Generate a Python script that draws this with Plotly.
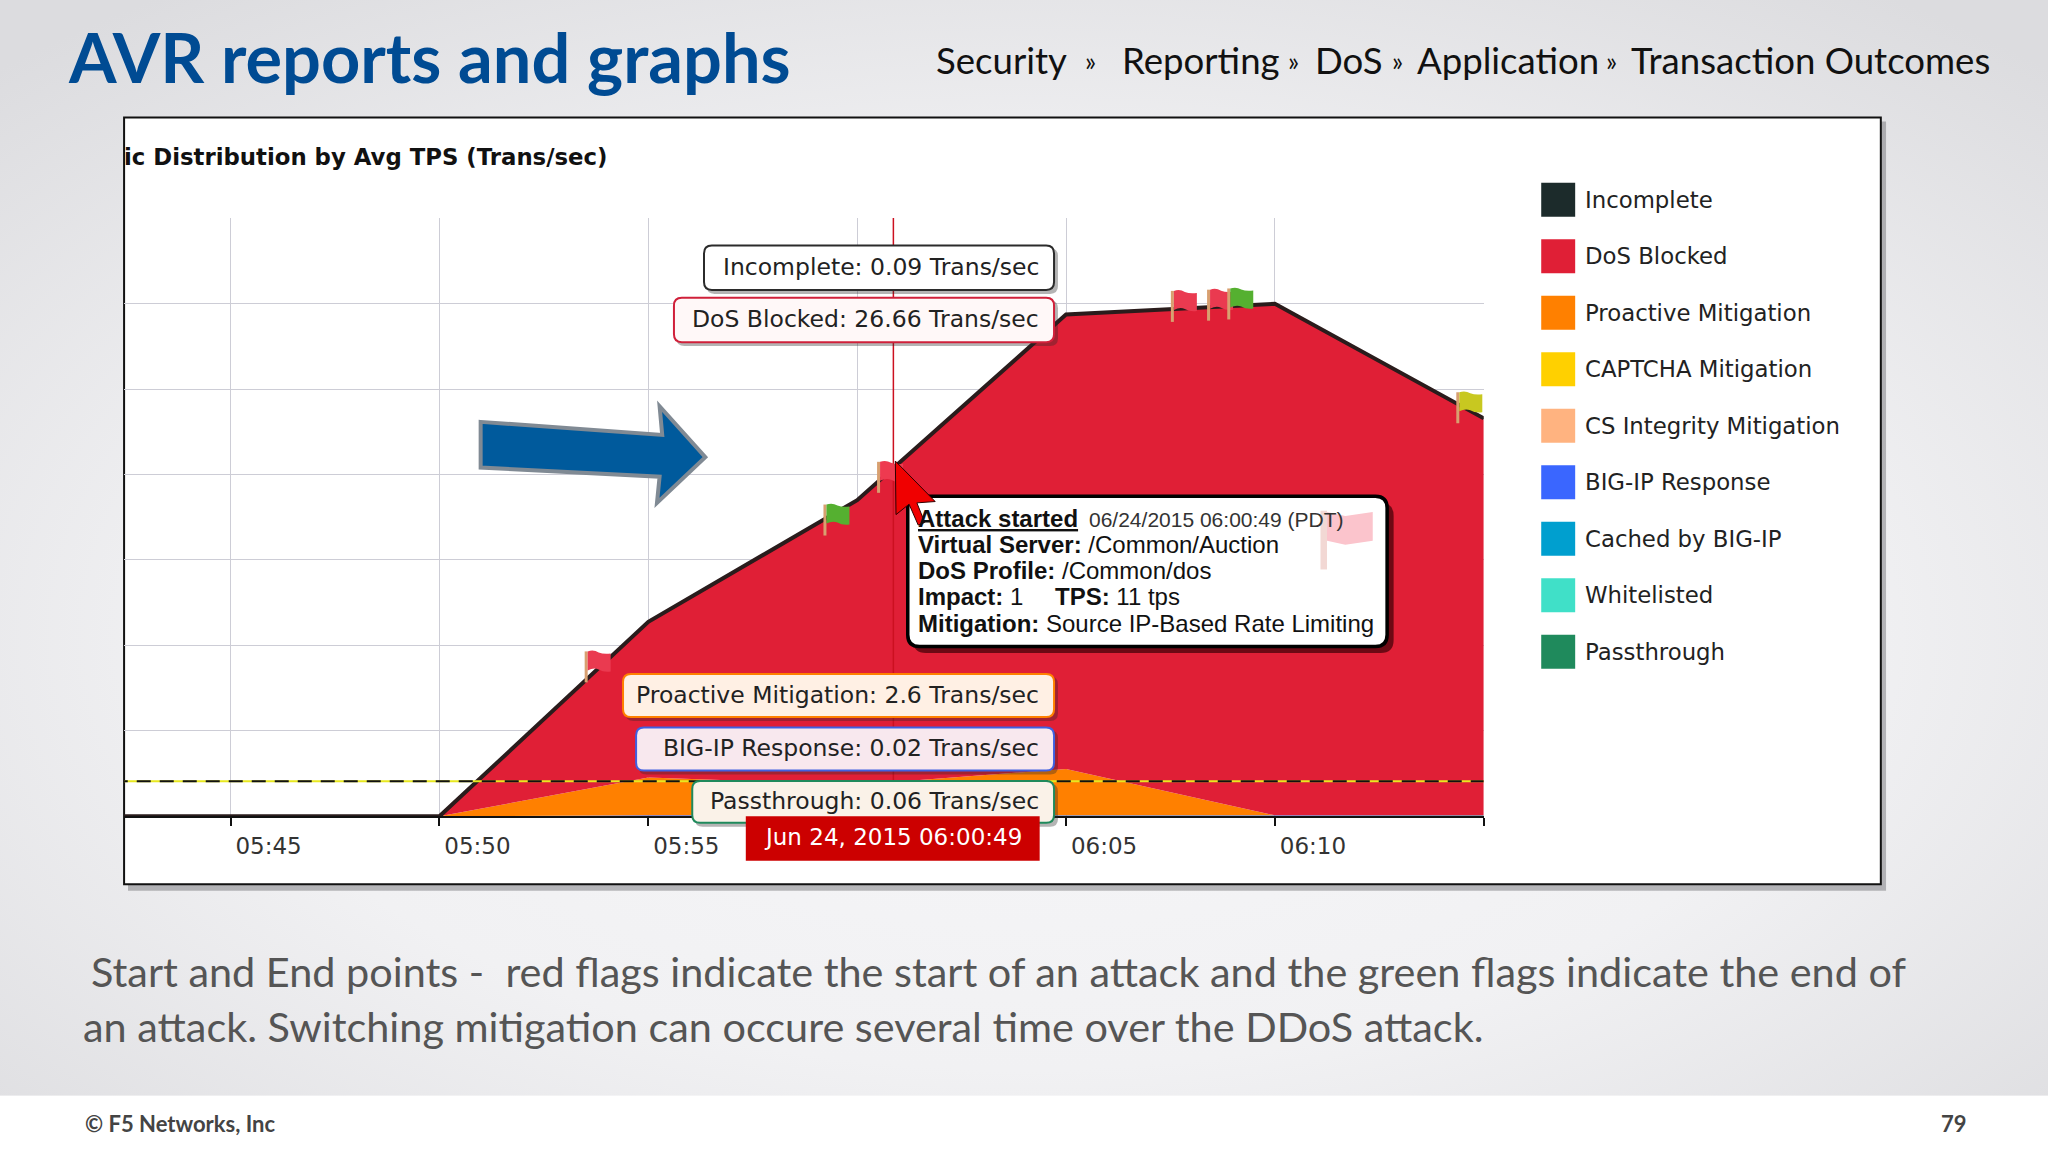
import plotly.graph_objects as go

# ---------- data ----------
day = "2015-06-24 "
times = [day + t for t in ["05:40:00", "05:45:00", "05:50:00", "05:55:00", "06:00:00", "06:05:00", "06:10:00", "06:15:00"]]
passthrough = [0, 0, 0, 0.06, 0.06, 0.06, 0.06, 0.06]
big_ip = [0, 0, 0, 0.02, 0.02, 0.02, 0.02, 0.02]
proactive = [0, 0, 0, 3.1, 2.5, 3.8, 0, 0]
dos_blocked = [0, 0, 0, 12.66, 23.23, 37.13, 41.81, 32.43]
incomplete = [0, 0, 0, 0.09, 0.09, 0.09, 0.09, 0.09]
threshold = 2.87

tick_times = [day + t for t in ["05:45:00", "05:50:00", "05:55:00", "06:00:00", "06:05:00", "06:10:00", "06:15:00"]]
tick_labels = ["05:45", "05:50", "05:55", "", "06:05", "06:10", ""]
cursor_time = day + "06:00:52"

flag_times = [day + t for t in ["05:53:30", "05:59:13", "06:00:30", "06:07:32", "06:08:24", "06:08:53", "06:14:22"]]
flag_values = [10.97, 23.0, 26.5, 40.5, 40.6, 40.7, 32.2]
flag_colors = ["#ea3a50", "#55b030", "#ee3a50", "#ea3a50", "#ea3a50", "#55b030", "#c8c820"]

legend_names = ["Incomplete", "DoS Blocked", "Proactive Mitigation", "CAPTCHA Mitigation", "CS Integrity Mitigation",
                "BIG-IP Response", "Cached by BIG-IP", "Whitelisted", "Passthrough"]
legend_colors = ["#1c2b2b", "#e01f36", "#ff8000", "#ffd000", "#ffb380", "#3a66ff", "#009fcf", "#40e0c8", "#1f8a5c"]

tip_texts = ["Incomplete: 0.09 Trans/sec", "DoS Blocked: 26.66 Trans/sec", "Proactive Mitigation: 2.6 Trans/sec",
             "BIG-IP Response: 0.02 Trans/sec", "Passthrough: 0.06 Trans/sec"]
tip_borders = ["#2b2b2b", "#d0203a", "#ff8000", "#4060e0", "#1f8a5c"]
tip_fills = ["#ffffff", "#fff8f8", "#fff0e4", "#f8e8ee", "#faf2e8"]
tip_lefts = [539, 516, 477, 487, 530]
tip_tops = [188, 228, 516, 557, 598]
tip_bottoms = [222, 262, 549, 590, 630]

IMG_W, IMG_H = 1568.0, 882.0
def X(v): return v / IMG_W
def Y(v): return 1 - v / IMG_H
SANS = "Liberation Sans"
SLIDE = "Lato"
DEJA = "DejaVu Sans"

def poly(points, close=True):
    s = "M" + " L".join(f"{X(a):.5f},{Y(b):.5f}" for a, b in points)
    return s + (" Z" if close else "")

def rrect(x0, y0, x1, y1, r):
    return (f"M{X(x0+r):.5f},{Y(y0):.5f} L{X(x1-r):.5f},{Y(y0):.5f} Q{X(x1):.5f},{Y(y0):.5f} {X(x1):.5f},{Y(y0+r):.5f} "
            f"L{X(x1):.5f},{Y(y1-r):.5f} Q{X(x1):.5f},{Y(y1):.5f} {X(x1-r):.5f},{Y(y1):.5f} "
            f"L{X(x0+r):.5f},{Y(y1):.5f} Q{X(x0):.5f},{Y(y1):.5f} {X(x0):.5f},{Y(y1-r):.5f} "
            f"L{X(x0):.5f},{Y(y0+r):.5f} Q{X(x0):.5f},{Y(y0):.5f} {X(x0+r):.5f},{Y(y0):.5f} Z")

shapes, anns = [], []
def pshape(path, fill, line=None, width=0, layer="above"):
    shapes.append(dict(type="path", xref="paper", yref="paper", path=path, fillcolor=fill,
                       line=dict(color=line or "rgba(0,0,0,0)", width=width), layer=layer))
def text(t, x, y, size, color="#000", font=SANS, anchor="left"):
    anns.append(dict(text=t, xref="paper", yref="paper", x=X(x), y=Y(y), xanchor=anchor, yanchor="middle",
                     showarrow=False, font=dict(family=font, size=size, color=color), borderpad=0))

# chart frame
pshape(poly([(98, 93), (1444, 93), (1444, 682), (98, 682)]), "rgba(70,70,75,0.35)", layer="below")
pshape(poly([(95, 90), (1440, 90), (1440, 677), (95, 677)]), "#ffffff", "#111111", 2, layer="below")

traces = []
for name, vals, color in [("Passthrough", passthrough, legend_colors[8]), ("BIG-IP Response", big_ip, legend_colors[5]),
                          ("Proactive Mitigation", proactive, legend_colors[2]), ("DoS Blocked", dos_blocked, legend_colors[1])]:
    traces.append(go.Scatter(x=times, y=vals, name=name, stackgroup="a", mode="lines", fillcolor=color,
                             line=dict(width=0, color=color), showlegend=False, hoverinfo="skip"))
traces.append(go.Scatter(x=times, y=incomplete, name="Incomplete", stackgroup="a", mode="lines", fillcolor="#1c2b2b",
                         line=dict(width=4, color="#2a1c1c"), showlegend=False, hoverinfo="skip"))
thr_x = [times[0], times[-1]]
traces.append(go.Scatter(x=thr_x, y=[threshold, threshold], mode="lines", line=dict(color="#e8e820", width=2),
                         showlegend=False, hoverinfo="skip"))
traces.append(go.Scatter(x=thr_x, y=[threshold, threshold], mode="lines", line=dict(color="#111111", width=2, dash="14px,9px"),
                         showlegend=False, hoverinfo="skip"))

# crosshair at the hovered time
shapes.append(dict(type="line", xref="x", yref="y", x0=cursor_time, x1=cursor_time, y0=0, y1=49,
                   line=dict(color="#cc1020", width=1.5), layer="above"))

# flags, anchored to the data
for t, v, c in zip(flag_times, flag_values, flag_colors):
    common = dict(type="path", xref="x", yref="y", xsizemode="pixel", ysizemode="pixel", xanchor=t, yanchor=v, layer="above")
    shapes.append(dict(path="M-1,0 L2,0 L2,31 L-1,31 Z", fillcolor="#d8a070", line=dict(width=0), **common))
    shapes.append(dict(path="M2,31 Q8,33 13,30 Q18,28 25,29 L25,11 Q18,10 13,13 Q8,15 2,12 Z", fillcolor=c, line=dict(width=0), **common))

# blue arrow
pshape(poly([(368, 323), (507, 333), (505, 311), (540, 350), (503, 385), (505, 365), (368, 358)]), "#005a9c", "#808a94", 4)

# small hover boxes
for txt, bc, fc, lft, top, bot in zip(tip_texts, tip_borders, tip_fills, tip_lefts, tip_tops, tip_bottoms):
    pshape(rrect(lft + 2, top + 2, 810, bot + 3, 6), "rgba(40,40,40,0.35)")
    pshape(rrect(lft, top, 807, bot, 6), fc, bc, 2)
    text(txt, 796, (top + bot) / 2 - 0.5, 23.5, "#222222", DEJA, "right")

# date box
pshape(poly([(571, 625), (796, 625), (796, 659), (571, 659)]), "#cc0000")
text("Jun 24, 2015 06:00:49", 683.5, 641, 23, "#ffffff", DEJA, "center")

# attack tooltip
pshape(rrect(699, 385, 1067, 500, 10), "rgba(60,0,5,0.7)")
pshape(rrect(695, 380, 1062, 495, 9), "#ffffff", "#000000", 3.5)
pole = [(1011, 391), (1016, 391), (1016, 436), (1011, 436)]
body = [(1016, 392), (1030, 395), (1051, 392), (1051, 414), (1030, 417), (1016, 414)]
pshape(poly(pole), "#f2d8d4")
pshape(poly(body), "#fbc4cc")
text("<b><u>Attack started</u></b>", 702, 397, 24, "#111111")
text("06/24/2015 06:00:49 (PDT)", 833, 398, 21, "#333333")
text("<b>Virtual Server:</b> /Common/Auction", 702, 417, 24, "#111111")
text("<b>DoS Profile:</b> /Common/dos", 702, 437, 24, "#111111")
text("<b>Impact:</b> 1", 702, 457, 24, "#111111")
text("<b>TPS:</b> 11 tps", 807, 457, 24, "#111111")
text("<b>Mitigation:</b> Source IP-Based Rate Limiting", 702, 477, 24, "#111111")

# mouse cursor
pshape(poly([(685.5, 353), (686, 394), (696, 386), (703, 402), (708, 400), (702, 385), (716, 384)]), "#f00000", "#300000", 1)

# legend
for i, (n, c) in enumerate(zip(legend_names, legend_colors)):
    cy = 153 + i * 43.25
    pshape(poly([(1180, cy - 13), (1206, cy - 13), (1206, cy + 13), (1180, cy + 13)]), c)
    text(n, 1213, cy, 22.8, "#222222", DEJA)

# chart title
text("<b>ic Distribution by Avg TPS (Trans/sec)</b>", 94, 120, 22.8, "#111111", DEJA)

# slide titles
text("<b>AVR reports and graphs</b>", 51, 43.5, 68.5, "#004b93", SLIDE)
crumbs = [("Security", 716), ("»", 830), ("Reporting", 858), ("»", 985), ("DoS", 1006), ("»", 1065),
          ("Application", 1084), ("»", 1229), ("Transaction Outcomes", 1248)]
for c, x in crumbs:
    text(c, x, 46 if c != "»" else 47, 36.6 if c != "»" else 26, "#111111", SLIDE)

# caption
text("Start and End points -  red flags indicate the start of an attack and the green flags indicate the end of", 69, 743.5, 41.4, "#555555", SLIDE)
text("an attack. Switching mitigation can occure several time over the DDoS attack.", 63, 785.5, 41.4, "#555555", SLIDE)

# footer
text("<b>© F5 Networks, Inc</b>", 64, 860, 22, "#444444", SLIDE)
text("<b>79</b>", 1485, 860, 22, "#444444", SLIDE)

svg = ("data:image/svg+xml;utf8,<svg xmlns='http://www.w3.org/2000/svg' width='2048' height='1096'>"
       "<defs><radialGradient id='g' cx='50%25' cy='58%25' r='72%25'>"
       "<stop offset='0' stop-color='%23f7f7f9'/><stop offset='0.55' stop-color='%23f1f1f3'/>"
       "<stop offset='1' stop-color='%23dcdcdf'/></radialGradient></defs>"
       "<rect width='2048' height='1096' fill='url(%23g)'/></svg>")

fig = go.Figure(traces)
fig.update_layout(
    width=2048, height=1152, margin=dict(l=0, r=0, t=0, b=0), autosize=False,
    paper_bgcolor="#ffffff", plot_bgcolor="rgba(0,0,0,0)", showlegend=False,
    shapes=shapes, annotations=anns,
    images=[dict(source=svg, xref="paper", yref="paper", x=0, y=1, sizex=1, sizey=839 / IMG_H,
                 xanchor="left", yanchor="top", sizing="stretch", layer="below")],
    xaxis=dict(type="date", domain=[X(95), X(1136)], range=[day + "05:42:27", day + "06:15:00"],
               tickmode="array", tickvals=tick_times, ticktext=tick_labels, ticks="outside", ticklen=8,
               tickcolor="#111111", tickwidth=1.5, ticklabelshift=38, showline=True, linecolor="#111111", linewidth=2,
               showgrid=True, gridcolor="#cdcdd6", gridwidth=1.3, zeroline=False,
               tickfont=dict(family=DEJA, size=23, color="#333333")),
    yaxis=dict(domain=[Y(625), Y(167)], range=[0, 49], tick0=0, dtick=7, showticklabels=False, ticks="",
               showgrid=True, gridcolor="#cdcdd6", gridwidth=1.3, zeroline=False, showline=False),
)
fig.write_html("out.html", config={"displayModeBar": False}, post_script="document.body.style.margin='0';")
